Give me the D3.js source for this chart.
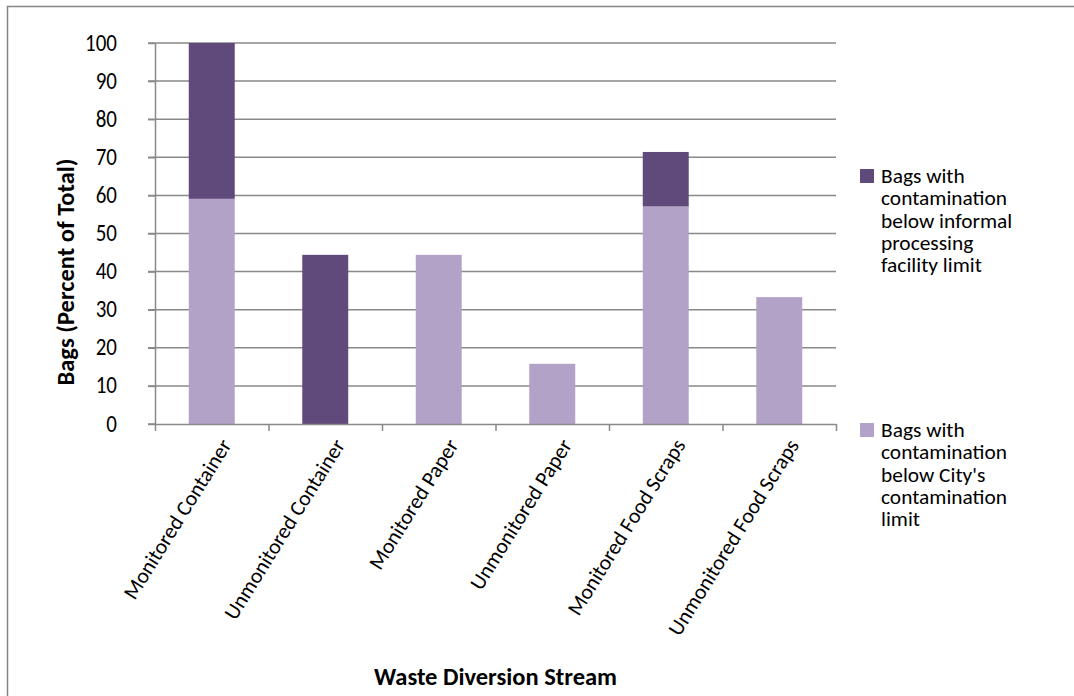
<!DOCTYPE html>
<html>
<head>
<meta charset="utf-8">
<script src="https://cdn.jsdelivr.net/npm/d3@7"></script>
<style>
  html, body { margin: 0; padding: 0; background: #fff; }
  svg { display: block; }
  text { font-family: Carlito, Lato, "Open Sans", sans-serif; fill: #000; }
</style>
</head>
<body>
<svg id="chart" width="1074" height="696"></svg>
<script>
const categories = ["Monitored Container", "Unmonitored Container", "Monitored Paper",
  "Unmonitored Paper", "Monitored Food Scraps", "Unmonitored Food Scraps"];
const cityLimit = [59.1, 0, 44.4, 15.8, 57.1, 33.3];
const informalLimit = [40.9, 44.4, 0, 0, 14.3, 0];
const yTicks = [0, 10, 20, 30, 40, 50, 60, 70, 80, 90, 100];
const seriesNames = ["Bags with contamination below informal processing facility limit",
  "Bags with contamination below City's contamination limit"];
const legendLines = [
  ["Bags with", "contamination", "below informal", "processing", "facility limit"],
  ["Bags with", "contamination", "below City's", "contamination", "limit"]
];
const colors = { informal: "#604A7B", city: "#B3A2C7" };

const svg = d3.select("#chart");
const FONT = "Carlito, Lato, sans-serif";

// outer frame
svg.append("rect").attr("x", 7.5).attr("y", 6.5).attr("width", 1080).attr("height", 700)
  .attr("fill", "none").attr("stroke", "#868686").attr("stroke-width", 1.5);

const plot = { left: 155, right: 836, top: 43, bottom: 424 };

const x = d3.scaleBand().domain(categories).range([plot.left, plot.right])
  .paddingInner(0.595).paddingOuter(0.2975);
const y = d3.scaleLinear().domain([0, 100]).range([plot.bottom, plot.top]);

// gridlines
svg.append("g").selectAll("line").data(yTicks.filter(d => d > 0)).join("line")
  .attr("x1", plot.left - 7).attr("x2", plot.right)
  .attr("y1", d => y(d)).attr("y2", d => y(d))
  .attr("stroke", "#898989").attr("stroke-width", 1.5);

// stacked bars
const data = categories.map((c, i) => ({ cat: c, city: cityLimit[i], informal: informalLimit[i] }));
const stack = d3.stack().keys(["city", "informal"])(data);
svg.append("g").selectAll("g").data(stack).join("g")
  .attr("fill", d => colors[d.key])
  .selectAll("rect").data(d => d.filter(p => p[1] - p[0] > 0)).join("rect")
  .attr("x", d => x(d.data.cat)).attr("width", x.bandwidth())
  .attr("y", d => y(d[1])).attr("height", d => y(d[0]) - y(d[1]));

// y axis
const yAxis = svg.append("g").attr("transform", `translate(${plot.left},0)`)
  .call(d3.axisLeft(y).tickValues(yTicks).tickSize(7).tickPadding(31).tickSizeOuter(0));
yAxis.select(".domain").attr("stroke", "#898989").attr("stroke-width", 1.5);
yAxis.selectAll(".tick line").attr("stroke", "#898989").attr("stroke-width", 1.5);
yAxis.selectAll(".tick text").style("font-size", "21px").style("font-family", FONT).attr("fill", "#000")
  .attr("dy", "0.3em").attr("transform", "scale(1,1.12)");

// x axis
const xb = d3.scaleLinear().domain([0, categories.length]).range([plot.left, plot.right]);
const xAxis = svg.append("g").attr("transform", `translate(0,${plot.bottom})`)
  .call(d3.axisBottom(xb).ticks(categories.length).tickFormat("").tickSize(7).tickSizeOuter(0));
xAxis.select(".domain").attr("stroke", "#898989").attr("stroke-width", 1.5);
xAxis.selectAll(".tick line").attr("stroke", "#898989").attr("stroke-width", 1.5);
svg.append("line").attr("x1", plot.left - 7).attr("x2", plot.left).attr("y1", plot.bottom).attr("y2", plot.bottom)
  .attr("stroke", "#898989").attr("stroke-width", 1.5);

// x labels rotated
svg.append("g").selectAll("text").data(categories).join("text")
  .attr("transform", d => `translate(${x(d) + x.bandwidth() / 2 + 14},${plot.bottom + 17}) rotate(-58)`)
  .attr("text-anchor", "end").attr("dy", "0.35em")
  .style("font-size", "21.5px").text(d => d);

// axis titles
svg.append("text").attr("transform", `translate(74,272) rotate(-90)`)
  .attr("text-anchor", "middle").style("font-size", "24.5px").style("font-weight", "bold")
  .text("Bags (Percent of Total)");
svg.append("text").attr("x", (plot.left + plot.right) / 2).attr("y", 685)
  .attr("text-anchor", "middle").style("font-size", "24.5px").style("font-weight", "bold")
  .text("Waste Diversion Stream");

// legend
const legendTop = [169, 423];
const legendColors = [colors.informal, colors.city];
const lg = svg.append("g");
legendLines.forEach((lines, i) => {
  lg.append("rect").attr("x", 860).attr("y", legendTop[i]).attr("width", 14).attr("height", 14)
    .attr("fill", legendColors[i]);
  const t = lg.append("text")
    .attr("transform", `translate(881,${legendTop[i] + 14}) scale(1.07,1)`)
    .style("font-size", "20px").attr("aria-label", seriesNames[i]);
  lines.forEach((ln, j) => {
    t.append("tspan").attr("x", 0).attr("y", j * 22.3).text(ln);
  });
});
</script>
</body>
</html>
